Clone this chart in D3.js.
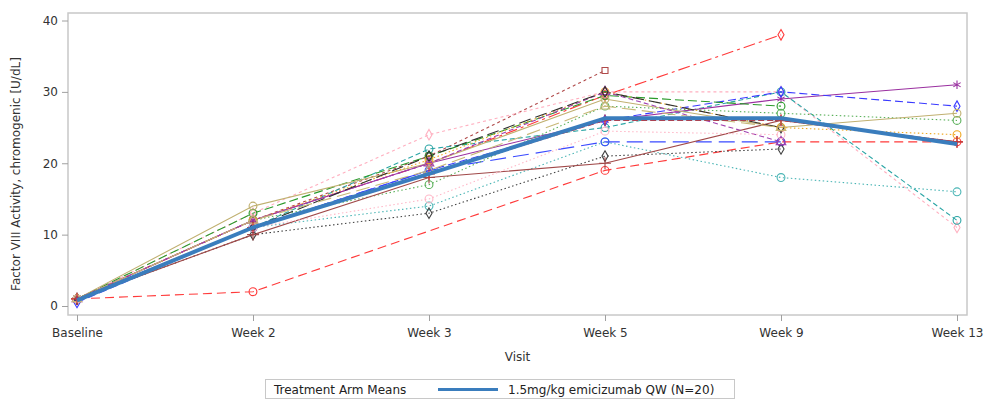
<!DOCTYPE html>
<html>
<head>
<meta charset="utf-8">
<script src="https://cdn.jsdelivr.net/npm/d3@7"></script>
<style>
  html, body { margin: 0; padding: 0; background: #fff; }
  svg { display: block; font-family: "DejaVu Sans", sans-serif; }
</style>
</head>
<body>
<svg id="chart" width="984" height="400"></svg>
<script>
// Visits on the x axis
const visits = ["Baseline", "Week 2", "Week 3", "Week 5", "Week 9", "Week 13"];
const yTicks = [0, 10, 20, 30, 40];

// Treatment arm mean profile
const meanValues = [0.8, 11, 18.5, 26.3, 26.3, 22.7];
const meanLabel = "1.5mg/kg emicizumab QW (N=20)";

// Individual subject profiles (null = no sample at that visit)
const s01 = [1, 2, null, 19, 23, 23];
const s02 = [1, 12, 20, 29.5, 38, null];
const s03 = [1, 12, 21, 33, null, null];
const s04 = [1, 13, 24, 30, 30, 11];
const s05 = [1, 11, 22, 25, 30, 12];
const s06 = [1, 11, 14, 23, 18, 16];
const s07 = [1, 11, 19, 23, 23, null];
const s08 = [1, 10, 13, 21, 22, null];
const s09 = [1, 12, 20, 26, 29, 31];
const s10 = [0.5, 11, 19, 26, 30, 28];
const s11 = [1, 13, 21, 29.5, 28, null];
const s12 = [1, 12, 17, 28, 27, 26];
const s13 = [1, 14, 20, 29, 25, 27];
const s14 = [1, 12, 20.5, 30, 25, 24];
const s15 = [1, 10, 18, 20, 26, 23];
const s16 = [1, 12, 20, 30, 23, null];
const s17 = [1, 11, 21, 30, 25, null];
const s18 = [1, 11, 15, 24.5, 24, null];
const s19 = [1, 12, 19, 28, 25, null];
const s20 = [1, 11, 18.5, 26, 26, 23];

const subjects = [s01, s02, s03, s04, s05, s06, s07, s08, s09, s10,
                  s11, s12, s13, s14, s15, s16, s17, s18, s19, s20];

// Per-subject line styling
const subjColors  = ["#ff3a3a", "#ff3a3a", "#b04a4a", "#ffb0c0", "#2aa5a5", "#4ab5b5", "#3a4aff", "#404040", "#9a30a0", "#3a3aff",
                     "#2a9a2a", "#5ab05a", "#c0b070", "#f0a820", "#a04848", "#a040b0", "#303030", "#ffb8c8", "#c8b878", "#d03030"];
const subjDashes  = ["9,5", "12,4,3,4", "3,3", "3,3", "5,3", "1.5,2.5", "16,7", "1.5,2.5", null, "8,4",
                     "9,4", "1.5,2.5", null, "1.5,2.5", null, "5,3", "12,5", "1.5,2.5", "14,6", "6,3"];
const subjSymbols = ["circle", "diamond", "square", "diamond", "circle", "circle", "circle", "diamond", "asterisk", "diamond",
                     "circle", "circle", "circle", "circle", "plus", "triangle", "diamond", "circle", "triangle", "plus"];

const svg = d3.select("#chart");
const frame = { left: 68, right: 967, top: 13, bottom: 315 };

const x = d3.scalePoint().domain(visits).range([frame.left + 9, frame.right - 10]);
const y = d3.scaleLinear().domain([0, 40]).range([306, 20.5]);

// Plot frame
svg.append("rect")
  .attr("x", frame.left).attr("y", frame.top)
  .attr("width", frame.right - frame.left).attr("height", frame.bottom - frame.top)
  .attr("fill", "none").attr("stroke", "#c8c8c8").attr("stroke-width", 1.5);

// Y axis
const yAxis = svg.append("g")
  .attr("transform", `translate(${frame.left},0)`)
  .call(d3.axisLeft(y).tickValues(yTicks).tickSize(6).tickPadding(4));
yAxis.select(".domain").remove();
yAxis.selectAll("line").attr("stroke", "#a0a0a0");
yAxis.selectAll("text").attr("font-size", 12).attr("fill", "#333").attr("font-family", "DejaVu Sans");

// X axis
const xAxis = svg.append("g")
  .attr("transform", `translate(0,${frame.bottom})`)
  .call(d3.axisBottom(x).tickSize(6).tickPadding(7));
xAxis.select(".domain").remove();
xAxis.selectAll("line").attr("stroke", "#a0a0a0");
xAxis.selectAll("text").attr("font-size", 12).attr("fill", "#333").attr("font-family", "DejaVu Sans");

// Axis titles
svg.append("text")
  .attr("x", (frame.left + frame.right) / 2).attr("y", 361)
  .attr("text-anchor", "middle").attr("font-size", 12).attr("fill", "#333")
  .text("Visit");
svg.append("text")
  .attr("transform", `translate(20,${(frame.top + frame.bottom) / 2 + 10}) rotate(-90)`)
  .attr("text-anchor", "middle").attr("font-size", 12).attr("fill", "#333")
  .text("Factor VIII Activity, chromogenic [U/dL]");

const plot = svg.append("g");

const line = d3.line().x(d => x(d.visit)).y(d => y(d.value));

function pointsOf(values) {
  return values.map((v, i) => ({ visit: visits[i], value: v })).filter(d => d.value != null);
}

const symbolTypes = {
  circle: d3.symbolCircle,
  diamond: d3.symbolDiamond,
  square: d3.symbolSquare,
  triangle: d3.symbolTriangle,
  plus: d3.symbolPlus || d3.symbolCross,
  asterisk: d3.symbolAsterisk || d3.symbolCross
};
const symbolSizes = { circle: 48, diamond: 32, square: 36, triangle: 40, plus: 48, asterisk: 50 };

// Subject lines
subjects.forEach((vals, i) => {
  plot.append("path")
    .datum(pointsOf(vals))
    .attr("d", line)
    .attr("fill", "none")
    .attr("stroke", subjColors[i])
    .attr("stroke-width", 1.1)
    .attr("stroke-dasharray", subjDashes[i]);
});

// Subject markers
subjects.forEach((vals, i) => {
  const shape = subjSymbols[i];
  const sym = d3.symbol().type(symbolTypes[shape]).size(symbolSizes[shape]);
  plot.append("g").selectAll("path")
    .data(pointsOf(vals))
    .join("path")
    .attr("transform", d => `translate(${x(d.visit)},${y(d.value)})`)
    .attr("d", sym)
    .attr("fill", "none")
    .attr("stroke", subjColors[i])
    .attr("stroke-width", 1.1);
});

// Mean line
plot.append("path")
  .datum(pointsOf(meanValues))
  .attr("d", line)
  .attr("fill", "none")
  .attr("stroke", "#3a7dbd")
  .attr("stroke-width", 4)
  .attr("stroke-linejoin", "round");

// Legend
const legend = svg.append("g");
legend.append("rect")
  .attr("x", 265.5).attr("y", 379.5).attr("width", 469).attr("height", 19)
  .attr("fill", "#fff").attr("stroke", "#c8c8c8");
legend.append("text")
  .attr("x", 274).attr("y", 393.5).attr("font-size", 12).attr("fill", "#222")
  .text("Treatment Arm Means");
legend.append("line")
  .attr("x1", 438).attr("x2", 498).attr("y1", 389.5).attr("y2", 389.5)
  .attr("stroke", "#3a7dbd").attr("stroke-width", 3);
legend.append("text")
  .attr("x", 508).attr("y", 393.5).attr("font-size", 12).attr("fill", "#222")
  .text(meanLabel);
</script>
</body>
</html>
